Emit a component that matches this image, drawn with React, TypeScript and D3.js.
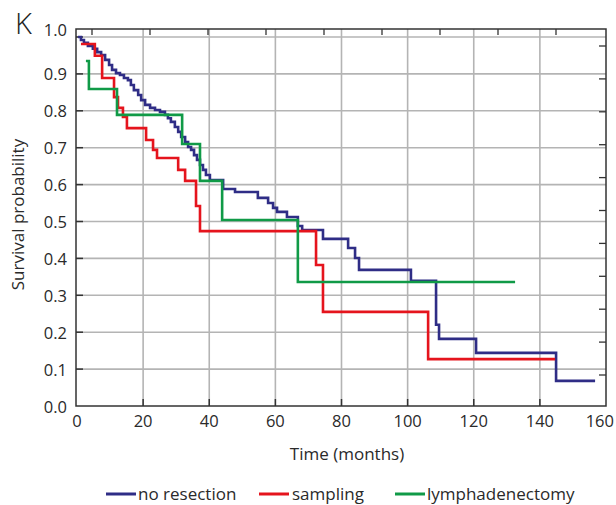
import React from "react";
import * as d3 from "d3";

// ---- data ----
const xTicks = [0, 20, 40, 60, 80, 100, 120, 140, 160];
const yTicks = [0, 0.1, 0.2, 0.3, 0.4, 0.5, 0.6, 0.7, 0.8, 0.9, 1.0];

const noResectionTime = [0.3, 1.2, 2.1, 3.3, 4.8, 6.1, 7.3, 8.5, 9.7, 10.6, 11.8, 13.0, 14.2, 15.4, 16.3, 17.2, 18.5, 19.4, 20.6, 22.1, 23.6, 25.1, 26.6, 27.5, 28.4, 29.6, 30.6, 31.5, 32.7, 33.6, 34.5, 35.4, 36.3, 37.2, 38.1, 39.0, 40.2, 44.2, 47.8, 54.7, 57.8, 59.3, 60.5, 63.5, 66.8, 68.1, 74.4, 82.0, 84.1, 85.3, 101.0, 108.6, 109.5, 120.7, 144.9];
const noResectionSurv = [1.0, 0.992, 0.984, 0.976, 0.968, 0.959, 0.951, 0.938, 0.924, 0.911, 0.902, 0.897, 0.889, 0.883, 0.87, 0.856, 0.843, 0.829, 0.816, 0.808, 0.802, 0.797, 0.789, 0.78, 0.77, 0.756, 0.743, 0.729, 0.715, 0.702, 0.694, 0.68, 0.667, 0.653, 0.64, 0.626, 0.612, 0.588, 0.58, 0.564, 0.55, 0.537, 0.526, 0.512, 0.488, 0.477, 0.453, 0.428, 0.401, 0.369, 0.339, 0.22, 0.182, 0.144, 0.068];
const noResectionEnd = 156.7;

const samplingTime = [1.2, 5.4, 7.6, 11.2, 12.4, 13.9, 15.1, 20.9, 23.0, 24.2, 30.6, 32.7, 36.0, 37.2, 72.3, 74.4, 106.2];
const samplingSurv = [0.981, 0.949, 0.889, 0.837, 0.808, 0.783, 0.753, 0.721, 0.694, 0.672, 0.64, 0.61, 0.542, 0.474, 0.382, 0.255, 0.127];
const samplingEnd = 144.6;

const lymphTime = [2.7, 3.6, 12.1, 31.8, 37.2, 43.9, 66.8];
const lymphSurv = [0.935, 0.859, 0.789, 0.71, 0.61, 0.504, 0.336];
const lymphEnd = 132.5;

const seriesNames = ["no resection", "sampling", "lymphadenectomy"];
const seriesColors = ["#2f2d86", "#e5141d", "#109a47"];

// ---- layout ----
const W = 616;
const H = 505;
const plotLeft = 76;
const plotRight = 606;
const plotTop = 29;
const plotBottom = 406;
const font = "'Open Sans', 'DejaVu Sans', sans-serif";
const textColor = "#2a2a2a";
const tickFont = 16.5;
const labelFont = 17;

export default function App() {
  const x = d3.scaleLinear().domain([0, 160]).range([77, 606]);
  const y = d3.scaleLinear().domain([0, 1]).range([406, 37]);

  const stepPath = (times: number[], surv: number[], end: number) => {
    let p = `M${x(times[0])},${y(surv[0])}`;
    for (let i = 1; i < times.length; i++) {
      p += `H${x(times[i])}V${y(surv[i])}`;
    }
    p += `H${x(end)}`;
    return p;
  };

  const series = [
    stepPath(noResectionTime, noResectionSurv, noResectionEnd),
    stepPath(samplingTime, samplingSurv, samplingEnd),
    stepPath(lymphTime, lymphSurv, lymphEnd),
  ];

  // decorative inner ticks of the original frame (top & right), mis-registered
  const topTickScale = d3.scaleLinear().domain([0, 8]).range([92, 556]);
  const rightTickScale = d3.scaleLinear().domain([0, 10]).range([46, 375]);

  const legendItems = [
    { x0: 106, tx: 138 },
    { x0: 259, tx: 292 },
    { x0: 395, tx: 427 },
  ];

  return (
    <svg
      width={W}
      height={H}
      style={{ position: "absolute", left: 0, top: 0, background: "#fff" }}
    >
      <rect x={0} y={0} width={W} height={H} fill="#fff" />
      {/* grid */}
      {xTicks.slice(1, -1).map((t) => (
        <line key={"gx" + t} x1={x(t)} x2={x(t)} y1={plotTop} y2={plotBottom} stroke="#b4b4b4" strokeWidth={1.6} />
      ))}
      {yTicks.slice(1).map((t) => (
        <line key={"gy" + t} x1={plotLeft} x2={plotRight} y1={y(t)} y2={y(t)} stroke="#b4b4b4" strokeWidth={1.6} />
      ))}
      {/* inner ticks bottom / left */}
      {xTicks.slice(1, -1).map((t) => (
        <line key={"tx" + t} x1={x(t)} x2={x(t)} y1={plotBottom} y2={plotBottom - 7} stroke="#333" strokeWidth={1.5} />
      ))}
      {yTicks.slice(1).map((t) => (
        <line key={"ty" + t} x1={plotLeft} x2={plotLeft + 7} y1={y(t)} y2={y(t)} stroke="#333" strokeWidth={1.5} />
      ))}
      {d3.range(0, 9).map((k) => (
        <line key={"tt" + k} x1={topTickScale(k)} x2={topTickScale(k)} y1={plotTop} y2={plotTop + 6} stroke="#333" strokeWidth={1.3} />
      ))}
      {d3.range(0, 11).map((k) => (
        <line key={"tr" + k} x1={plotRight} x2={plotRight - 7} y1={rightTickScale(k)} y2={rightTickScale(k)} stroke="#333" strokeWidth={1.3} />
      ))}
      {/* frame */}
      <rect x={plotLeft} y={plotTop} width={plotRight - plotLeft} height={plotBottom - plotTop} fill="none" stroke="#333" strokeWidth={1.5} />

      {/* curves */}
      {series.map((d, i) => (
        <path key={"s" + i} d={d} fill="none" stroke={seriesColors[i]} strokeWidth={2.6} strokeLinejoin="miter" strokeLinecap="butt" />
      ))}

      {/* y tick labels */}
      {yTicks.map((t) => (
        <text
          key={"ly" + t}
          x={67}
          y={t === 1 ? plotTop : y(t)}
          textAnchor="end"
          dominantBaseline="central"
          fontFamily={font}
          fontSize={tickFont}
          fill={textColor}
        >
          {t.toFixed(1)}
        </text>
      ))}
      {/* x tick labels */}
      {xTicks.map((t, i) => (
        <text
          key={"lx" + t}
          x={i === xTicks.length - 1 ? W - 2 : x(t)}
          y={plotBottom + 14}
          textAnchor={i === xTicks.length - 1 ? "end" : "middle"}
          dominantBaseline="central"
          fontFamily={font}
          fontSize={tickFont}
          fill={textColor}
        >
          {t}
        </text>
      ))}

      {/* panel letter */}
      <text x={15} y={34} fontFamily={font} fontSize={29} fontWeight={300} fill="#222">
        K
      </text>

      {/* axis titles */}
      <text
        x={(plotLeft + plotRight) / 2 + 6}
        y={453}
        textAnchor="middle"
        dominantBaseline="central"
        fontFamily={font}
        fontSize={labelFont}
        fill={textColor}
      >
        Time (months)
      </text>
      <text
        transform={`translate(24,${(plotTop + plotBottom) / 2 - 3}) rotate(-90)`}
        textAnchor="middle"
        fontFamily={font}
        fontSize={labelFont}
        fill={textColor}
      >
        Survival probability
      </text>

      {/* legend */}
      {legendItems.map((it, i) => (
        <g key={"lg" + i}>
          <line x1={it.x0} x2={it.x0 + 30} y1={494} y2={494} stroke={seriesColors[i]} strokeWidth={3} />
          <text x={it.tx} y={493} dominantBaseline="central" fontFamily={font} fontSize={labelFont} fill={textColor}>
            {seriesNames[i]}
          </text>
        </g>
      ))}
    </svg>
  );
}
